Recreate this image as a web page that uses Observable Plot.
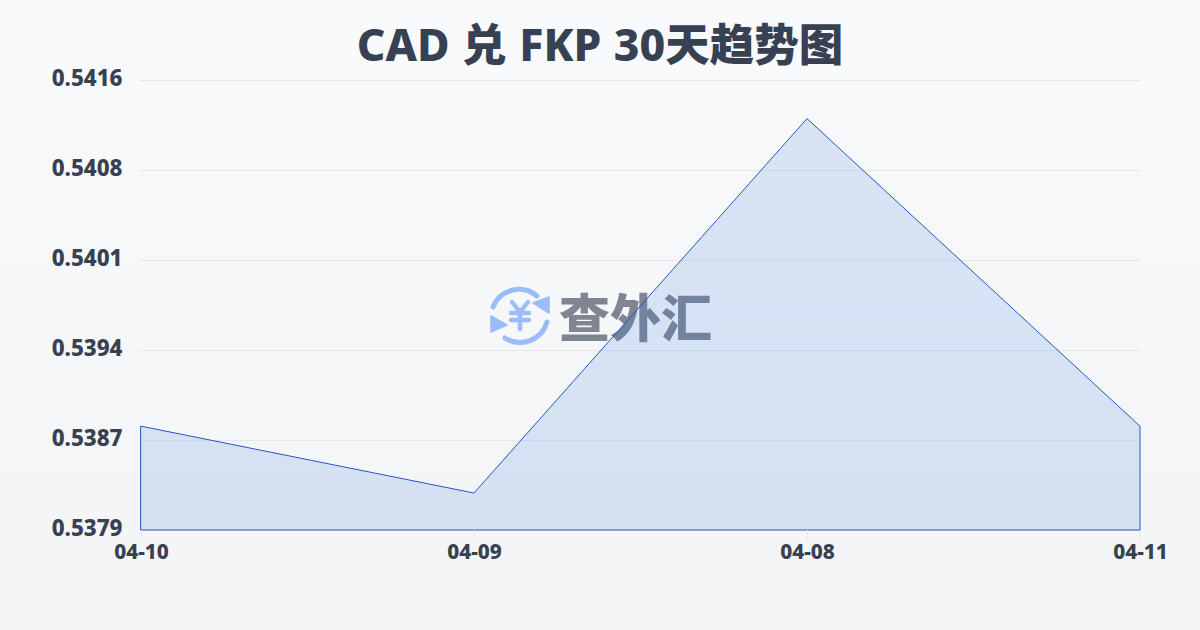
<!DOCTYPE html>
<html><head><meta charset="utf-8">
<script src="https://cdn.jsdelivr.net/npm/d3@7"></script>
<script src="https://cdn.jsdelivr.net/npm/@observablehq/plot@0.6"></script>
<style>
html,body{margin:0;padding:0;width:1200px;height:630px;overflow:hidden}
body{background:linear-gradient(180deg,#f8fafc 0%,#f3f4f6 100%);font-family:"Noto Sans","Noto Sans CJK SC",sans-serif;position:relative}
#title{position:absolute;left:0;top:13px;width:1200px;text-align:center;font-size:44.5px;line-height:62px;font-weight:800;color:#374151;word-spacing:1px;font-family:"Noto Sans","Noto Sans CJK SC",sans-serif}
#wm{position:absolute;left:488px;top:284px;width:64px;height:64px}
#wmtext{position:absolute;left:559px;top:279px;font:900 51px/72px "Noto Sans CJK SC",sans-serif;color:#6b7280;opacity:.85;white-space:nowrap}
#chart{position:absolute;left:0;top:0}
svg{display:block}
</style></head><body>
<div id="title">CAD 兑 FKP 30天趋势图</div>
<svg id="wm" viewBox="0 0 64 64" fill="none" stroke="#9abcf8" stroke-width="5" stroke-linecap="round">
  <path d="M5 23 A28 28 0 0 1 49 12"/>
  <path d="M59 38 A28 28 0 0 1 17 54"/>
  <path d="M61 13 L61 29 L45 19 Z" fill="#9abcf8" stroke-width="1.5" stroke-linejoin="round"/>
  <path d="M3 32 L3 48 L19 41 Z" fill="#9abcf8" stroke-width="1.5" stroke-linejoin="round"/>
  <path d="M24 18 L32 28 L40 18 M32 28 L32 45 M23 29 L41 29 M23 36 L41 36" stroke-width="4.4"/>
</svg>
<div id="wmtext">查外汇</div>
<div id="chart"></div>
<script>
const dates = ["04-10","04-09","04-08","04-11"];
const rates = [0.538774,0.538237,0.541245,0.538774];
const yTicks = [0.53794,0.538663,0.539386,0.540109,0.540832,0.541555];
const data = dates.map((d,i)=>({d,r:rates[i]}));
const plot = Plot.plot({
  width:1200,height:630,marginLeft:140,marginRight:60,marginTop:80,marginBottom:100,
  style:{background:"transparent",fontFamily:'"Noto Sans","Noto Sans CJK SC",sans-serif',overflow:"visible"},
  x:{type:"point",domain:dates,padding:0,label:null},
  y:{domain:[yTicks[0],yTicks[5]],label:null},
  marks:[
    Plot.gridY(yTicks,{stroke:"#e5e7eb",strokeOpacity:1,strokeWidth:1}),
    Plot.areaY(data,{x:"d",y1:yTicks[0],y2:"r",fill:"#3b76e0",fillOpacity:.16,stroke:"#2456c4",strokeWidth:1,curve:"linear"}),
    Plot.axisY({ticks:yTicks,tickFormat:v=>v.toFixed(4),tickSize:0,tickPadding:18,fontSize:22.3,fontWeight:800,fill:"#374151",dy:-2,label:null}),
    Plot.axisX({tickSize:10,tickPadding:4,stroke:"#e5e7eb",fontSize:20.8,fontWeight:800,fill:"#374151",label:null})
  ]
});
document.getElementById("chart").appendChild(plot);
</script>
</body></html>
